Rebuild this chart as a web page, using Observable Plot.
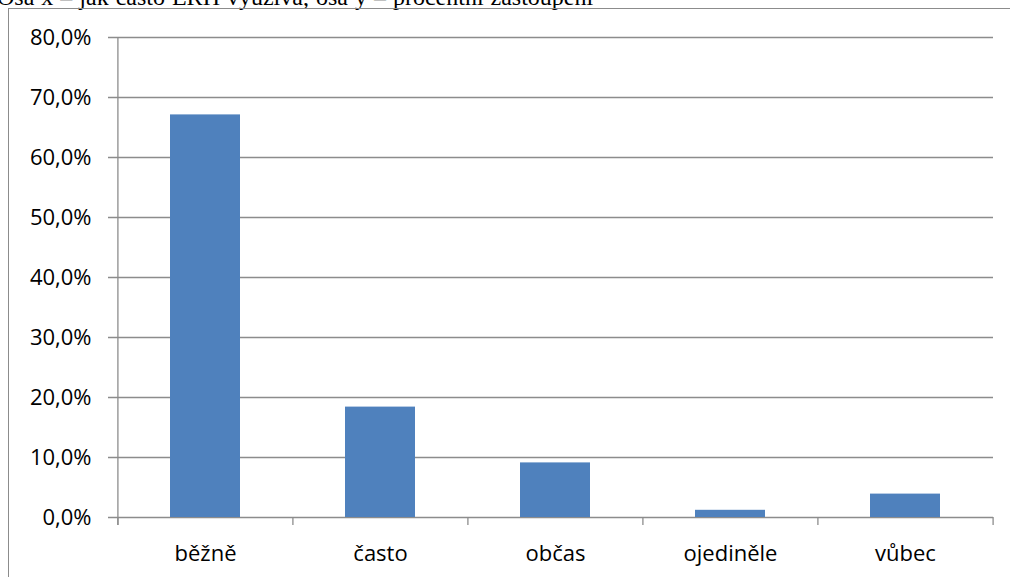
<!DOCTYPE html>
<html>
<head>
<meta charset="utf-8">
<script src="https://cdn.jsdelivr.net/npm/d3@7"></script>
<script src="https://cdn.jsdelivr.net/npm/@observablehq/plot@0.6"></script>
<style>
  html, body { margin: 0; padding: 0; background: #fff; overflow: hidden; }
  #page { position: relative; width: 1010px; height: 577px; overflow: hidden; }
  #title {
    position: absolute; left: -3px; top: -14px;
    font-family: "Liberation Serif", "Times New Roman", serif;
    font-size: 24px; line-height: 23px; word-spacing: 1px;
    white-space: nowrap; color: #000;
  }
  #chart {
    position: absolute; left: 8px; top: 8px;
    border-left: 1px solid #8c8c8c; border-top: 1px solid #8c8c8c;
    width: 1001px; height: 568px;
  }
  #chart svg text { fill: #000; }
</style>
</head>
<body>
<div id="page">
  <div id="title">Osa x – jak často ERH využívá, osa y – procentní zastoupení</div>
  <div id="chart"></div>
</div>
<script>
// Share of answers per frequency category (percent)
const categories = ["běžně", "často", "občas", "ojediněle", "vůbec"];
const shares = [67.1, 18.4, 9.1, 1.2, 3.9];
const yTicks = [0, 10, 20, 30, 40, 50, 60, 70, 80];

const data = categories.map((c, i) => ({category: c, share: shares[i]}));

const W = 1001, H = 568;
const mL = 108, mR = 17, mT = 28, mB = 60;
const step = (W - mL - mR) / categories.length;
const gridColor = "#8c8c8c";
const fmt = d => d.toFixed(1).replace(".", ",") + "%";

const chart = Plot.plot({
  width: W,
  height: H,
  marginLeft: mL,
  marginRight: mR,
  marginTop: mT,
  marginBottom: mB,
  style: {fontFamily: "'Open Sans', sans-serif", fontSize: "22px", color: "#000", background: "transparent"},
  x: {
    domain: categories,
    paddingInner: 0.6,
    paddingOuter: 0.3,
    label: null,
    tickSize: 0,
    tickPadding: 28
  },
  y: {
    domain: [0, 80],
    ticks: yTicks,
    tickFormat: fmt,
    label: null,
    tickSize: 0,
    tickPadding: 26
  },
  marks: [
    // horizontal gridlines, extended left to form the y ticks
    Plot.ruleY(yTicks, {stroke: gridColor, strokeWidth: 1.3, insetLeft: -9}),
    Plot.barY(data, {x: "category", y: "share", fill: "#4f81bd"}),
    // vertical axis line
    Plot.ruleX([categories[0]], {dx: -step / 2, y1: 80, y2: 0, insetBottom: -8, stroke: gridColor, strokeWidth: 1.3}),
    // category boundary ticks below the baseline
    Plot.ruleX(categories, {x: d => d, dx: -step / 2, y1: 0, y2: 0, insetBottom: -8, stroke: gridColor, strokeWidth: 1.3}),
    Plot.ruleX([categories[categories.length - 1]], {dx: step / 2, y1: 0, y2: 0, insetBottom: -8, stroke: gridColor, strokeWidth: 1.3})
  ]
});

document.getElementById("chart").appendChild(chart);
</script>
</body>
</html>
